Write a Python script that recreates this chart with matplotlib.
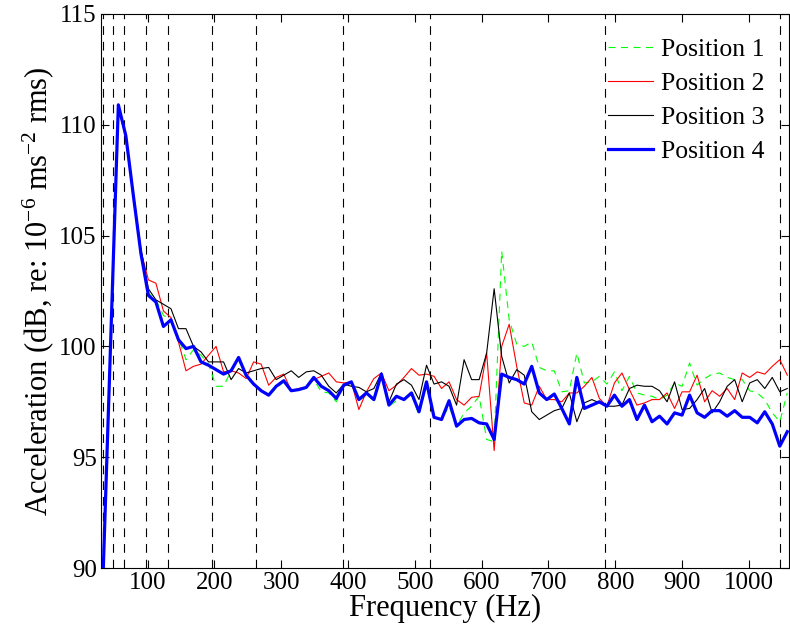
import matplotlib
import matplotlib.pyplot as plt

matplotlib.use("Agg")

plt.rcParams["font.family"] = ["Liberation Serif", "DejaVu Serif"]
plt.rcParams["mathtext.fontset"] = "custom"
plt.rcParams["mathtext.rm"] = "Liberation Serif"
plt.rcParams["mathtext.it"] = "Liberation Serif:italic"
plt.rcParams["lines.scale_dashes"] = False

freq_hz = [
    33.75, 45.0, 56.25, 67.5, 78.75, 90.0, 101.25, 112.5, 123.75, 135.0,
    146.25, 157.5, 168.75, 180.0, 191.25, 202.5, 213.75, 225.0, 236.25, 247.5,
    258.75, 270.0, 281.25, 292.5, 303.75, 315.0, 326.25, 337.5, 348.75, 360.0,
    371.25, 382.5, 393.75, 405.0, 416.25, 427.5, 438.75, 450.0, 461.25, 472.5,
    483.75, 495.0, 506.25, 517.5, 528.75, 540.0, 551.25, 562.5, 573.75, 585.0,
    596.25, 607.5, 618.75, 630.0, 641.25, 652.5, 663.75, 675.0, 686.25, 697.5,
    708.75, 720.0, 731.25, 742.5, 753.75, 765.0, 776.25, 787.5, 798.75, 810.0,
    821.25, 832.5, 843.75, 855.0, 866.25, 877.5, 888.75, 900.0, 911.25, 922.5,
    933.75, 945.0, 956.25, 967.5, 978.75, 990.0, 1001.25, 1012.5, 1023.75, 1035.0,
    1046.25, 1057.5,
]

position_1 = [
    90.0, 100.45, 110.85, 109.5, 106.8, 104.2, 102.4,
    102.1, 101.4, 101.2, 100.4, 99.4, 99.85, 99.6, 99.2, 98.2, 98.2,
    98.9, 99.4, 98.6, 98.3, 98.0, 97.8, 98.1, 98.4, 98.0, 98.05,
    98.1, 98.5, 97.95, 97.9, 97.5, 98.2, 98.35, 97.55, 97.8, 97.55,
    98.65, 97.3, 97.55, 97.65, 97.85, 96.9, 98.3, 96.8, 96.7, 97.3,
    96.4, 97.0, 97.3, 97.75, 95.8, 95.7, 104.3, 101.2, 100.1, 100.0,
    100.2, 99.05, 98.9, 98.9, 97.95, 98.0, 99.7, 98.35, 98.4, 98.65,
    98.3, 98.85, 98.0, 98.65, 97.9, 97.8, 97.75, 97.6, 97.8, 98.35,
    98.2, 99.25, 98.25, 98.55, 98.75, 98.8, 98.6, 98.5, 98.5, 98.0,
    97.9, 97.6, 97.0, 96.6, 97.9,
]

position_2 = [
    90.0, 100.4, 110.7, 109.6, 106.9, 104.3, 103.0,
    102.85, 101.6, 101.3, 100.2, 98.9, 99.1, 99.2, 99.6, 100.0, 98.85,
    98.9, 98.8, 98.55, 99.3, 99.2, 98.25, 98.6, 98.75, 98.0, 98.1,
    98.15, 98.5, 98.65, 98.8, 98.4, 98.35, 98.4, 97.15, 97.95, 98.55,
    98.8, 98.0, 98.25, 98.6, 99.0, 98.7, 98.75, 98.65, 98.1, 98.4,
    97.6, 97.35, 97.7, 97.75, 99.7, 95.3, 100.0, 101.0, 99.1, 97.45,
    97.35, 98.2, 97.6, 97.6, 97.5, 97.9, 97.9, 98.2, 98.6, 97.65,
    97.3, 98.35, 98.8, 98.05, 97.35, 97.45, 97.6, 97.6, 97.9, 97.2,
    97.95, 97.95, 98.7, 97.5, 98.0, 97.75, 98.1, 97.6, 98.8, 98.6,
    98.85, 98.75, 99.1, 99.4, 98.7,
]

position_3 = [
    90.0, 100.45, 110.8, 109.4, 106.9, 104.4, 102.6,
    102.1, 101.9, 101.7, 100.8, 100.8, 100.0, 99.75, 99.3, 99.3, 99.3,
    98.5, 99.0, 98.8, 98.9, 99.0, 99.05, 98.5, 98.7, 98.9, 98.6,
    98.85, 98.9, 98.7, 98.2, 97.9, 98.3, 98.2, 98.15, 97.95, 98.1,
    98.8, 97.5, 98.3, 98.5, 98.25, 97.6, 99.15, 98.3, 98.4, 98.2,
    97.35, 99.4, 98.5, 98.5, 99.7, 102.6, 99.55, 98.35, 98.95, 98.7,
    97.05, 96.7, 96.9, 97.1, 97.2, 97.9, 96.6, 97.45, 97.6, 97.45,
    97.3, 97.3, 97.35, 98.1, 98.25, 98.2, 98.2, 98.0, 97.5, 98.4,
    97.15, 97.2, 97.6, 98.1, 97.0, 97.5, 98.2, 98.5, 97.5, 98.35,
    98.5, 98.1, 98.6, 97.95, 98.1,
]

position_4 = [
    90.0, 100.45, 110.9, 109.5, 106.8, 104.2, 102.3,
    102.0, 100.9, 101.2, 100.3, 99.9, 100.0, 99.3, 99.15, 98.95, 98.75,
    98.9, 99.5, 98.7, 98.3, 98.0, 97.8, 98.2, 98.45, 98.0, 98.05,
    98.15, 98.6, 98.2, 98.0, 97.65, 98.25, 98.4, 97.6, 97.9, 97.6,
    98.75, 97.35, 97.75, 97.6, 97.9, 97.05, 98.4, 96.8, 96.7, 97.55,
    96.4, 96.7, 96.75, 96.55, 96.5, 95.8, 98.75, 98.6, 98.5, 98.3,
    99.1, 97.9, 97.6, 97.85, 97.2, 96.5, 98.6, 97.2, 97.35, 97.5,
    97.3, 97.8, 97.3, 97.6, 96.7, 97.35, 96.6, 96.85, 96.5, 97.0,
    96.9, 97.8, 97.0, 96.8, 97.1, 97.1, 96.85, 97.1, 96.8, 96.8,
    96.55, 97.05, 96.5, 95.5, 96.15,
]

# harmonic marker lines (Hz)
marker_freqs = [32.70, 49.00, 65.41, 98.00, 130.81, 196.00, 261.63, 392.00,
                523.25, 783.99, 1046.50]

fig = plt.figure(figsize=(7.9, 6.35), dpi=100)
ax = fig.add_axes([0.1276, 0.1055, 0.8711, 0.8725])

for f in marker_freqs:
    ax.axvline(f, color="black", lw=0.8, linestyle=(0, (6.3, 5.0)), zorder=1)

ax.plot(freq_hz, position_1, color="#00ff00", lw=0.8, linestyle=(0, (5.0, 4.0)),
        label="Position 1", zorder=2)
ax.plot(freq_hz, position_2, color="#ff0000", lw=0.8, label="Position 2", zorder=3)
ax.plot(freq_hz, position_3, color="black", lw=0.8, label="Position 3", zorder=4)
ax.plot(freq_hz, position_4, color="#0000ff", lw=2.3, label="Position 4", zorder=5)

ax.set_xlim(30, 1060)
ax.set_ylim(90, 115)
ax.set_xticks([100, 200, 300, 400, 500, 600, 700, 800, 900, 1000])
ax.set_yticks([90, 95, 100, 105, 110, 115])
ax.tick_params(direction="in", top=True, right=True, length=6, width=0.8,
               labelsize=18, pad=3)
for spine in ax.spines.values():
    spine.set_linewidth(0.8)

ax.set_xlabel("Frequency (Hz)", fontsize=22, labelpad=0)
ax.set_ylabel("Acceleration (dB, re: 10$^{-6}$ ms$^{-2}$ rms)", fontsize=22, labelpad=2)

leg = ax.legend(loc="upper right", fontsize=18.5, frameon=False, handlelength=1.75,
                handletextpad=0.3, labelspacing=0.42, borderaxespad=0.55)

fig.savefig("out.png", dpi=100)
